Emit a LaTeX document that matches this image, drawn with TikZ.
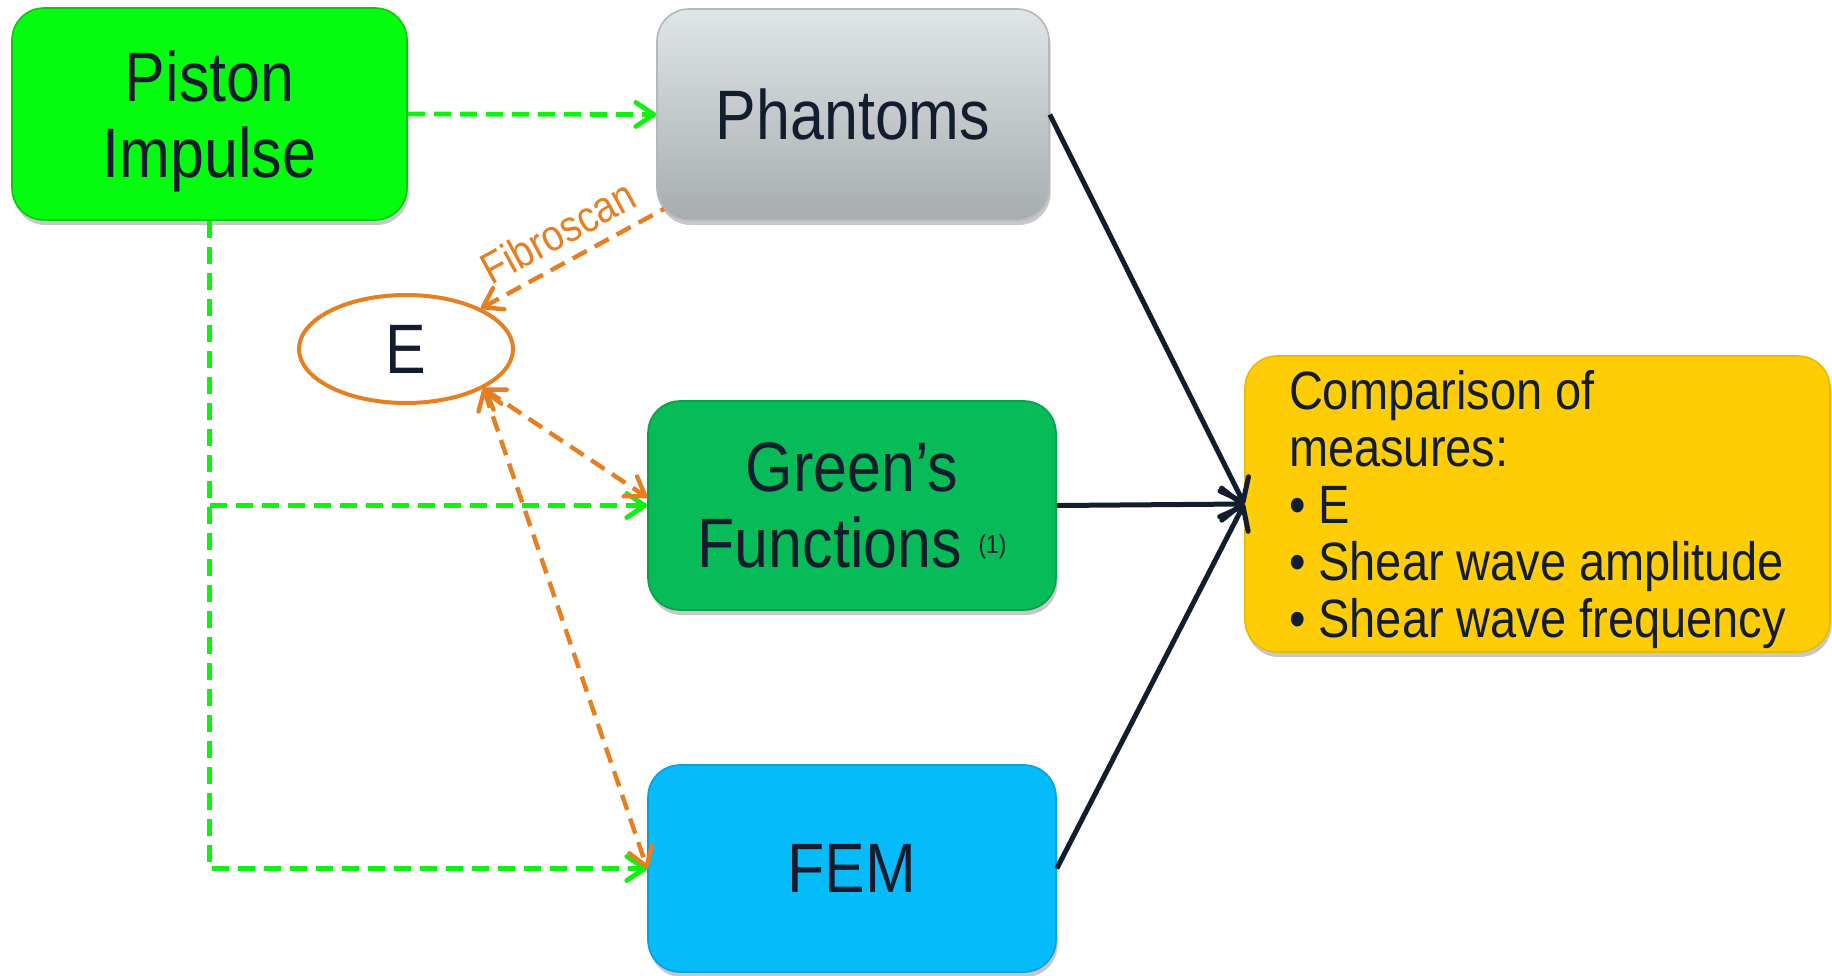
\documentclass[tikz,border=0pt]{standalone}
\usepackage{fontspec}
\newfontfamily\diafont{Liberation Sans}[FakeStretch=0.87]
\usetikzlibrary{arrows.meta,shadows,shapes.geometric}

\definecolor{ink}{RGB}{18,29,46}
\definecolor{pistonfill}{RGB}{4,252,14}
\definecolor{pistonedge}{RGB}{10,200,20}
\definecolor{phantomtop}{RGB}{224,229,232}
\definecolor{phantombot}{RGB}{167,172,175}
\definecolor{greenfill}{RGB}{7,187,88}
\definecolor{greenedge}{RGB}{10,160,75}
\definecolor{femfill}{RGB}{6,187,250}
\definecolor{femedge}{RGB}{10,160,220}
\definecolor{cmpfill}{RGB}{255,205,6}
\definecolor{cmpedge}{RGB}{235,185,0}
\definecolor{impulse}{RGB}{18,240,18}
\definecolor{fibro}{RGB}{230,126,34}

\tikzset{
  panel/.style={rounded corners=16pt, align=center, text=ink, inner sep=0pt,
    text depth=0pt, font=\diafont\fontsize{35}{38}\selectfont, line width=0.8pt,
    drop shadow={shadow xshift=0.8pt, shadow yshift=-2.5pt, opacity=0.22, fill=black}},
  openbarb/.tip={Straight Barb[length=9pt,width=12pt,line cap=round,line join=round]},
  darkbarb/.tip={Straight Barb[length=10pt,width=16pt,line cap=round,line join=round]},
  impulseline/.style={draw=impulse, line width=2.4pt, dash pattern=on 8.5pt off 4.5pt, -openbarb},
  fibroline/.style={draw=fibro, line width=2.2pt, dash pattern=on 8pt off 4.5pt},
  compareline/.style={draw=ink, line width=2.5pt, -darkbarb},
}

\begin{document}
\begin{tikzpicture}[x=0.5pt, y=-0.5pt]
\useasboundingbox (0,0) rectangle (1832,975);

% boxes
\node[panel, fill=pistonfill, draw=pistonedge, minimum width=197.5pt, minimum height=106pt]
  (pi) at (209.5,114) {Piston\\Impulse};
\node[panel, top color=phantomtop, bottom color=phantombot, draw=phantombot!85!white,
  minimum width=196pt, minimum height=105.5pt]
  (ph) at (853,114.5) {Phantoms};
\node[panel, fill=greenfill, draw=greenedge, minimum width=204pt, minimum height=104.5pt]
  (gr) at (852,505.5) {Green’s\\Functions\ \raisebox{7pt}{\fontsize{13}{13}\selectfont(1)}};
\node[panel, fill=femfill, draw=femedge, minimum width=204pt, minimum height=103.5pt]
  (fem) at (852,868.5) {FEM};
\node[panel, fill=cmpfill, draw=cmpedge, minimum width=292.5pt, minimum height=148pt,
  align=left, font=\diafont\fontsize{27}{28.5}\selectfont]
  (cmp) at (1537.5,504) {Comparison of\\measures:\\• E\\• Shear wave amplitude\\• Shear wave frequency};

% Young's modulus
\node[ellipse, draw=fibro, line width=2pt, minimum width=107pt, minimum height=54pt,
  inner sep=0pt, text=ink, text depth=0pt, font=\diafont\fontsize{35}{38}\selectfont]
  (E) at (406,349) {E};

% excitation paths
\draw[impulseline] (pi.east) -- (ph.west);
\draw[impulseline] (pi.south) -- (pi.south |- fem.west) -- (fem.west);
\draw[impulseline] (pi.south |- gr.west) -- (gr.west);

% elasticity paths
\draw[fibroline, openbarb-] (E) -- ([xshift=4pt,yshift=6pt]ph.south west)
  node[midway, sloped, above=5pt, inner sep=1pt, text=fibro,
       font=\diafont\fontsize{22}{22}\selectfont] (fibrolabel) {Fibroscan};
\draw[fibroline, openbarb-openbarb] (E.-27) -- ([yshift=4pt]gr.west);
\draw[fibroline, openbarb-openbarb] (E.-27) -- (fem.west);

% results into comparison
\draw[compareline] (ph.east) -- (cmp.west);
\draw[compareline] (gr.east) -- (cmp.west);
\draw[compareline] (fem.east) -- (cmp.west);
\end{tikzpicture}
\end{document}
